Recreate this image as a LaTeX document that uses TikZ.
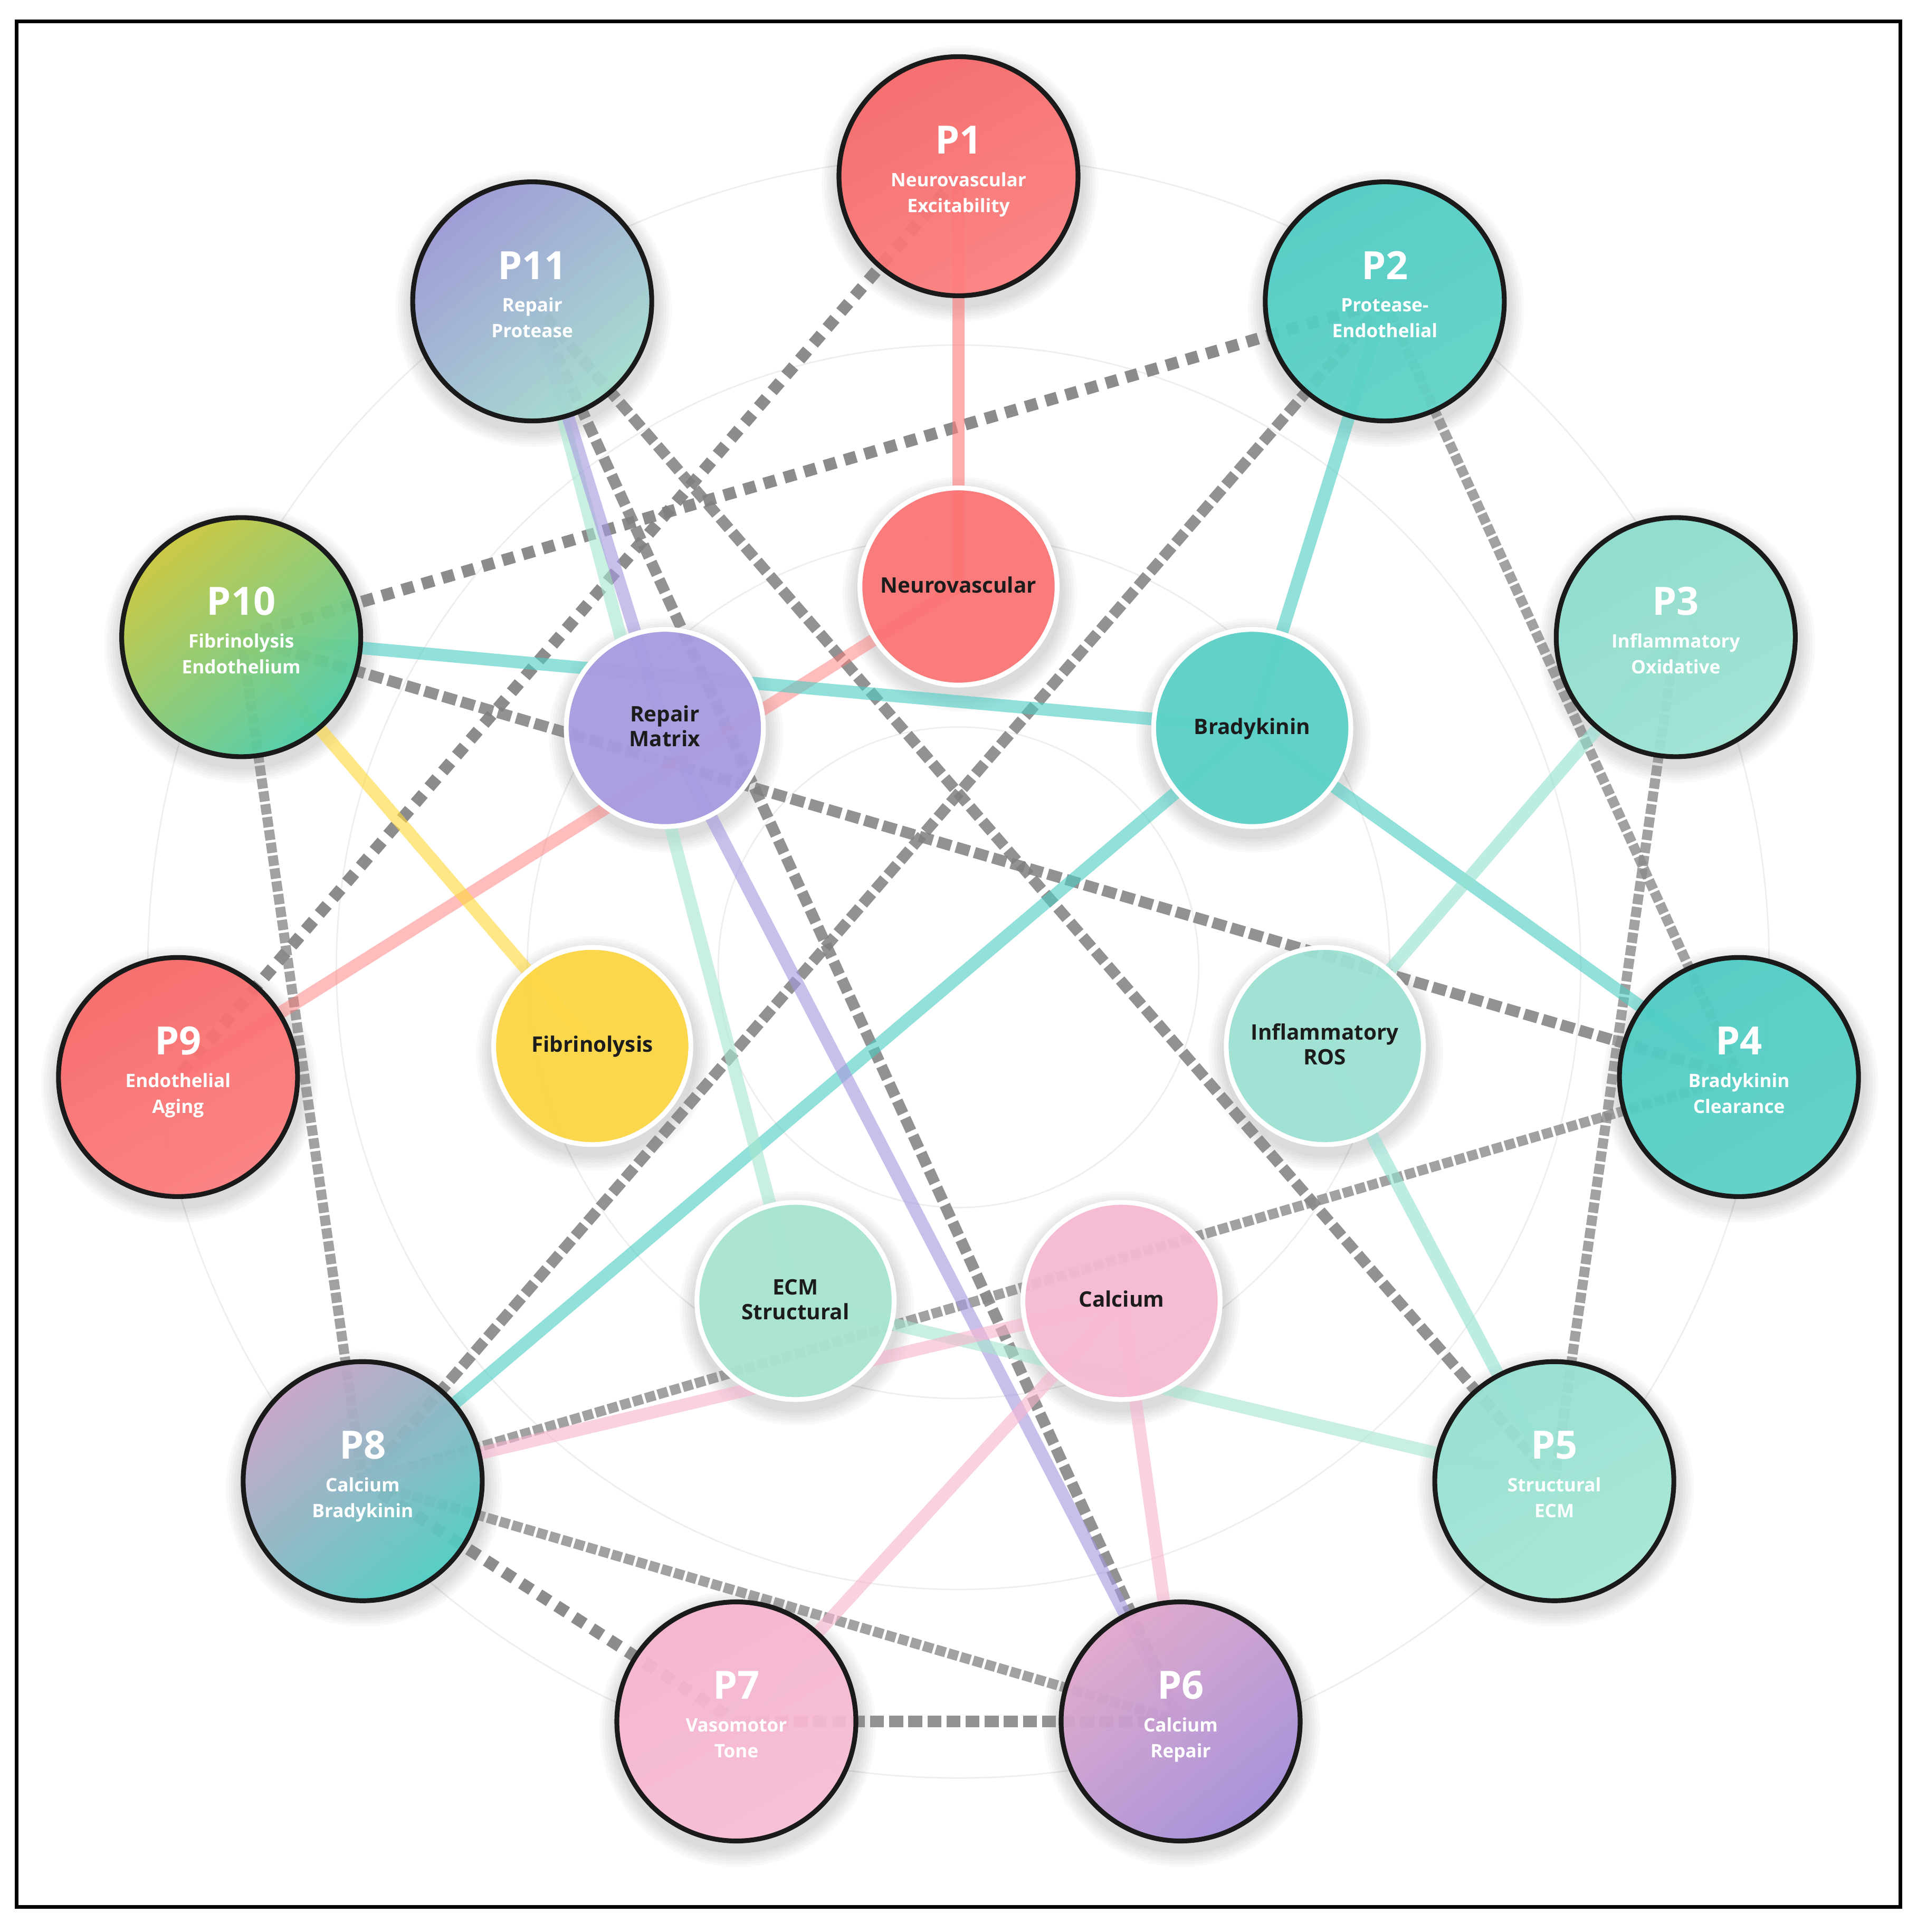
\documentclass[tikz,border=0pt]{standalone}
\usepackage{fontspec}
\setmainfont{Open Sans}
\usetikzlibrary{calc}
\pgfdeclarelayer{bg}
\pgfdeclarelayer{edges}
\pgfsetlayers{bg,edges,main}

\definecolor{pborder}{HTML}{1A1A1A}
\definecolor{hubtext}{HTML}{1C1C1C}
\definecolor{ringgray}{HTML}{EEEEEE}
\definecolor{dashgray}{HTML}{808080}
\definecolor{finegray}{HTML}{8A8A8A}
\definecolor{lcoral}{HTML}{FF7A7A}
\definecolor{lteal}{HTML}{4ECDC4}
\definecolor{lmint}{HTML}{A8E6CF}
\definecolor{lmint2}{HTML}{95E1D3}
\definecolor{llav}{HTML}{A898E0}
\definecolor{lyellow}{HTML}{FFD93D}
\definecolor{lpink}{HTML}{F8B5D0}

\tikzset{
  pcircle/.style={circle, minimum size=4.53cm, inner sep=0pt, draw=pborder, line width=2.6pt, fill opacity=0.93},
  hcircle/.style={circle, minimum size=3.736cm, inner sep=0pt, draw=white, line width=2.6pt, fill opacity=0.93},
  ptitle/.style={anchor=base, text=white, font=\fontsize{21}{21}\selectfont\bfseries, inner sep=0pt},
  psub/.style={anchor=base, text=white, font=\fontsize{10}{10}\selectfont\bfseries, inner sep=0pt},
  hlabel/.style={anchor=base, text=hubtext, font=\fontsize{11.5}{11.5}\selectfont\bfseries, inner sep=0pt},
  ring/.style={draw=ringgray, line width=0.8pt},
  link/.style={line width=6.8pt, draw opacity=0.62},
  coarsedash/.style={draw=dashgray, line width=6.4pt, dash pattern=on 6.5pt off 4.8pt, draw opacity=0.9},
  meddash/.style={draw=dashgray, line width=6pt, dash pattern=on 7.5pt off 2.8pt, draw opacity=0.85},
  finedash/.style={draw=finegray, line width=5.4pt, dash pattern=on 5.5pt off 1.5pt, draw opacity=0.8},
  frame/.style={draw=black, line width=2pt}
}

\newcommand{\pnd}[7]{%
  \node[pcircle,#4] (#1) at (#2,#3) {};
  \node[ptitle] (#1t) at ($(#1)+(0,18)$) {#5};
  \node[psub] (#1a) at ($(#1)+(0,-8.5)$) {#6};
  \node[psub] (#1b) at ($(#1)+(0,-29.5)$) {#7};
}
\newcommand{\hubone}[5]{%
  \node[hcircle,#4] (#1) at (#2,#3) {};
  \node[hlabel] (#1t) at ($(#1)+(0,-5)$) {#5};
}
\newcommand{\hubtwo}[6]{%
  \node[hcircle,#4] (#1) at (#2,#3) {};
  \node[hlabel] (#1a) at ($(#1)+(0,5)$) {#5};
  \node[hlabel] (#1b) at ($(#1)+(0,-15)$) {#6};
}
\newcommand{\nshadow}[2]{%
  \foreach \k in {1,...,6}{%
    \fill[black, opacity=0.022] ($(#1)+(1,-6)$) circle[radius=#2+\k*2.2];
  }%
}

\begin{document}
\begin{tikzpicture}[x=0.02335cm, y=0.02335cm]
\useasboundingbox (0,0) rectangle (1556,-1568);

% background and rings
\begin{pgfonlayer}{bg}
\fill[white] (0,0) rectangle (1556,-1568);
\draw[ring] (778,-785) circle[radius=195];
\draw[ring] (778,-785) circle[radius=350];
\draw[ring] (778,-785) circle[radius=505];
\draw[ring] (778,-785) circle[radius=658];
\end{pgfonlayer}

% outer nodes
\pnd{P1}{778}{-143}{top color={rgb,255:red,247;green,104;blue,104}, bottom color={rgb,255:red,255;green,128;blue,128}, shading angle=30}{P1}{Neurovascular}{Excitability}
\pnd{P2}{1124.0}{-244.6}{top color={rgb,255:red,78;green,205;blue,196}, bottom color={rgb,255:red,96;green,212;blue,200}, shading angle=30}{P2}{Protease-}{Endothelial}
\pnd{P3}{1360.2}{-517.1}{top color={rgb,255:red,140;green,222;blue,206}, bottom color={rgb,255:red,158;green,228;blue,212}, shading angle=30}{P3}{Inflammatory}{Oxidative}
\pnd{P4}{1411.5}{-874.1}{top color={rgb,255:red,78;green,205;blue,196}, bottom color={rgb,255:red,92;green,210;blue,199}, shading angle=30}{P4}{Bradykinin}{Clearance}
\pnd{P5}{1261.6}{-1202.1}{top color={rgb,255:red,149;green,225;blue,211}, bottom color={rgb,255:red,166;green,232;blue,214}, shading angle=30}{P5}{Structural}{ECM}
\pnd{P6}{958.3}{-1397.1}{top color={rgb,255:red,226;green,168;blue,204}, bottom color={rgb,255:red,164;green,142;blue,218}, shading angle=40}{P6}{Calcium}{Repair}
\pnd{P7}{597.7}{-1397.1}{top color={rgb,255:red,248;green,180;blue,208}, bottom color={rgb,255:red,249;green,190;blue,214}, shading angle=30}{P7}{Vasomotor}{Tone}
\pnd{P8}{294.4}{-1202.1}{top color={rgb,255:red,200;green,164;blue,200}, bottom color={rgb,255:red,78;green,205;blue,196}, shading angle=40}{P8}{Calcium}{Bradykinin}
\pnd{P9}{144.5}{-874.1}{top color={rgb,255:red,250;green,104;blue,104}, bottom color={rgb,255:red,255;green,126;blue,126}, shading angle=30}{P9}{Endothelial}{Aging}
\pnd{P10}{195.8}{-517.1}{top color={rgb,255:red,204;green,200;blue,58}, bottom color={rgb,255:red,76;green,206;blue,168}, shading angle=40}{P10}{Fibrinolysis}{Endothelium}
\pnd{P11}{432.0}{-244.6}{top color={rgb,255:red,156;green,152;blue,214}, bottom color={rgb,255:red,164;green,222;blue,208}, shading angle=40}{P11}{Repair}{Protease}

% hubs
\hubone{Neuro}{778}{-476}{fill={rgb,255:red,253;green,116;blue,116}}{Neurovascular}
\hubone{Brady}{1016.4}{-590.8}{fill={rgb,255:red,92;green,209;blue,200}}{Bradykinin}
\hubtwo{ROS}{1075.3}{-848.9}{fill={rgb,255:red,157;green,227;blue,212}}{Inflammatory}{ROS}
\hubone{Calc}{910.3}{-1055.8}{fill={rgb,255:red,248;green,186;blue,211}}{Calcium}
\hubtwo{ECM}{645.7}{-1055.8}{fill={rgb,255:red,168;green,230;blue,208}}{ECM}{Structural}
\hubone{Fibr}{480.7}{-848.9}{fill={rgb,255:red,253;green,215;blue,67}}{Fibrinolysis}
\hubtwo{Rep}{539.6}{-590.8}{fill={rgb,255:red,169;green,155;blue,225}}{Repair}{Matrix}

% shadows
\begin{pgfonlayer}{bg}
\foreach \n in {P1,P2,P3,P4,P5,P6,P7,P8,P9,P10,P11}{\nshadow{\n}{99}}
\foreach \n in {Neuro,Brady,ROS,Calc,ECM,Fibr,Rep}{\nshadow{\n}{82}}
\end{pgfonlayer}

% connectors
\begin{pgfonlayer}{edges}
% dashed
\draw[coarsedash] (P1.center) -- (P9.center);
\draw[coarsedash] (P10.center) -- (P2.center);
\draw[coarsedash] (P8.center) -- (P7.center);
\draw[meddash] (P2.center) -- (P8.center);
\draw[meddash] (P11.center) -- (P5.center);
\draw[meddash] (P11.center) -- (P6.center);
\draw[meddash] (P10.center) -- (P4.center);
\draw[meddash] (P7.center) -- (P6.center);
\draw[finedash] (P10.center) -- (P8.center);
\draw[finedash] (P2.center) -- (P4.center);
\draw[finedash] (P3.center) -- (P5.center);
\draw[finedash] (P4.center) -- (P8.center);
\draw[finedash] (P8.center) -- (P6.center);
% solid
\draw[link, draw=lcoral] (P1.center) -- (Neuro.center);
\draw[link, draw=lcoral, draw opacity=0.5] (Neuro.center) -- (P9.center);
\draw[link, draw=lteal] (P10.center) -- (Brady.center);
\draw[link, draw=lteal] (P2.center) -- (Brady.center);
\draw[link, draw=lteal] (Brady.center) -- (P4.center);
\draw[link, draw=lteal] (Brady.center) -- (P8.center);
\draw[link, draw=lmint] (P11.center) -- (ECM.center);
\draw[link, draw=llav] (P11.center) -- (Rep.center);
\draw[link, draw=llav] (Rep.center) -- (P6.center);
\draw[link, draw=lyellow] (P10.center) -- (Fibr.center);
\draw[link, draw=lmint2] (P3.center) -- (ROS.center);
\draw[link, draw=lmint2] (ROS.center) -- (P5.center);
\draw[link, draw=lmint] (ECM.center) -- (P5.center);
\draw[link, draw=lpink] (Calc.center) -- (P8.center);
\draw[link, draw=lpink] (Calc.center) -- (P7.center);
\draw[link, draw=lpink] (Calc.center) -- (P6.center);
\end{pgfonlayer}

% frame
\draw[frame] (13.3,-17.3) rectangle (1542.5,-1547.5);
\end{tikzpicture}
\end{document}
